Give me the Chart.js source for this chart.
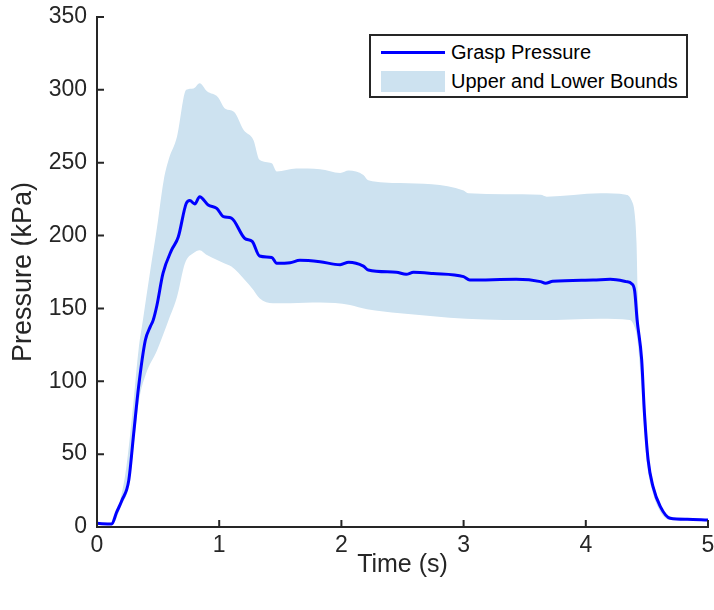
<!DOCTYPE html>
<html>
<head>
<meta charset="utf-8">
<script src="https://cdn.jsdelivr.net/npm/chart.js@4/dist/chart.umd.min.js"></script>
<style>
  body { margin: 0; background: #fff; }
  #wrap { position: relative; width: 714px; height: 610px; }
  #legend {
    position: absolute; left: 369px; top: 34px; width: 319px; height: 64px;
    box-sizing: border-box; border: 2px solid #262626; background: #fff;
    font-family: Arial, "Liberation Sans", sans-serif; font-size: 20px; color: #000;
  }
  .row { position: absolute; left: 10px; height: 22px; display: flex; align-items: center; white-space: nowrap; }
  .swatch { width: 64px; margin-right: 6px; }
</style>
</head>
<body>
<div id="wrap">
  <canvas id="chart" width="714" height="610"></canvas>
  <div id="legend"></div>
</div>
<script>
// ── Data ───────────────────────────────────────
const meanX = [0, 0.12, 0.16, 0.205, 0.26, 0.30, 0.34, 0.395, 0.436, 0.46, 0.49, 0.54, 0.61, 0.665, 0.73, 0.76, 0.80, 0.84, 0.91, 0.98, 1.035, 1.10, 1.21, 1.27, 1.33, 1.43, 1.47, 1.58, 1.66, 1.825, 1.99, 2.06, 2.18, 2.22, 2.45, 2.53, 2.59, 2.75, 3.0, 3.05, 3.43, 3.63, 3.67, 3.73, 4.06, 4.20, 4.33, 4.375, 4.40, 4.42, 4.457, 4.48, 4.51, 4.55, 4.61, 4.69, 4.83, 5.0];
const meanY = [2.5, 2, 10, 18.5, 32, 64, 96, 128, 137.5, 142, 152, 174, 190, 199, 222, 224, 221.7, 226.7, 221, 218.7, 213, 212, 198, 196, 186, 185, 181, 181.4, 183, 182, 180, 181.7, 179, 176.4, 174.8, 173.4, 174.8, 174, 171.8, 169.5, 170, 168.4, 167.3, 168.6, 169.5, 170, 168.4, 167, 162, 142, 115, 78, 46, 27.7, 14, 6, 5.3, 4.8];

const upperX = [0, 0.12, 0.2, 0.24, 0.30, 0.34, 0.376, 0.436, 0.49, 0.546, 0.586, 0.655, 0.73, 0.79, 0.84, 0.90, 0.99, 1.05, 1.12, 1.20, 1.28, 1.33, 1.43, 1.47, 1.63, 1.825, 1.99, 2.06, 2.18, 2.22, 2.48, 3.0, 3.04, 3.63, 3.68, 4.12, 4.33, 4.375, 4.40, 4.415, 4.425, 4.44, 4.465, 4.49, 4.52, 4.56, 4.62, 4.7, 5.0];
const upperY = [3, 3, 22, 41, 87, 121.5, 142, 176, 205, 238, 252, 268, 300, 301, 304.5, 299, 295, 287, 285, 272.5, 265.6, 252, 249.6, 244, 246, 245.5, 243, 244.6, 241.6, 238, 236, 231, 229, 228, 226.7, 229, 228, 224, 215, 195, 160, 135, 110, 78, 46, 28, 14, 7, 5];

const lowerX = [0, 0.12, 0.2, 0.26, 0.30, 0.34, 0.40, 0.49, 0.586, 0.655, 0.72, 0.79, 0.84, 0.90, 1.04, 1.10, 1.21, 1.28, 1.33, 1.44, 1.58, 1.825, 2.07, 2.21, 2.48, 3.02, 3.63, 4.12, 4.36, 4.40, 4.42, 4.445, 4.47, 4.50, 4.54, 4.60, 4.68, 5.0];
const lowerY = [1.5, 1.5, 15, 28, 55, 85, 105, 121, 142, 158, 181, 188, 190, 186.7, 181, 178.7, 169.5, 162.7, 157, 153.5, 153.5, 154, 152.4, 149.4, 146.7, 143, 142, 143, 142, 137, 130, 108, 76, 44, 26, 12, 5, 4.5];

const xTicks = [0, 1, 2, 3, 4, 5];
const yTicks = [0, 50, 100, 150, 200, 250, 300, 350];

const LINE_COLOR = '#0000ff';
const BAND_COLOR = '#cde2f0';
const AXIS_COLOR = '#262626';
const FONT = 'Arial, "Liberation Sans", sans-serif';

const pts = (xs, ys) => xs.map((x, i) => ({ x, y: ys[i] }));

// MATLAB-style inward tick marks
const inwardTicks = {
  id: 'inwardTicks',
  afterDatasetsDraw(chart) {
    const { ctx, chartArea, scales: { x, y } } = chart;
    ctx.save();
    ctx.strokeStyle = AXIS_COLOR;
    ctx.lineWidth = 2;
    ctx.beginPath();
    xTicks.forEach(v => {
      const px = x.getPixelForValue(v);
      ctx.moveTo(px, chartArea.bottom);
      ctx.lineTo(px, chartArea.bottom - 7);
    });
    yTicks.forEach(v => {
      const py = y.getPixelForValue(v);
      ctx.moveTo(chartArea.left, py);
      ctx.lineTo(chartArea.left + 7, py);
    });
    ctx.stroke();
    ctx.restore();
  },
};

// fixed axis boxes, no extra room for overhanging edge labels
function fitX(s) { s.height = 83; s.paddingLeft = 0; s.paddingRight = 0; }
function fitY(s) { s.width = 97; s.paddingTop = 0; s.paddingBottom = 0; }

const chart = new Chart(document.getElementById('chart'), {
  type: 'line',
  data: {
    datasets: [
      {
        label: 'Grasp Pressure',
        data: pts(meanX, meanY),
        borderColor: LINE_COLOR,
        borderWidth: 3,
        pointRadius: 0,
        cubicInterpolationMode: 'monotone',
        fill: false,
        order: 0,
      },
      {
        label: '_upper',
        data: pts(upperX, upperY),
        borderWidth: 0,
        borderColor: 'rgba(0,0,0,0)',
        pointRadius: 0,
        cubicInterpolationMode: 'monotone',
        fill: false,
        order: 2,
      },
      {
        label: 'Upper and Lower Bounds',
        data: pts(lowerX, lowerY),
        borderWidth: 0,
        borderColor: 'rgba(0,0,0,0)',
        backgroundColor: BAND_COLOR,
        pointRadius: 0,
        cubicInterpolationMode: 'monotone',
        fill: '-1',
        order: 1,
      },
    ],
  },
  options: {
    responsive: false,
    animation: false,
    layout: { padding: { top: 17, right: 6, left: 0, bottom: 0 } },
    plugins: { legend: { display: false }, tooltip: { enabled: false } },
    scales: {
      x: {
        type: 'linear', min: 0, max: 5,
        afterFit: fitX,
        afterBuildTicks: s => { s.ticks = xTicks.map(v => ({ value: v })); },
        ticks: { color: AXIS_COLOR, font: { family: FONT, size: 23 }, padding: 5, maxRotation: 0 },
        grid: { display: false, drawTicks: false },
        border: { display: true, color: AXIS_COLOR, width: 2 },
        title: { display: true, text: 'Time (s)', color: AXIS_COLOR, font: { family: FONT, size: 25 }, padding: { top: 0, bottom: 30 } },
      },
      y: {
        min: 0, max: 350,
        afterFit: fitY,
        afterBuildTicks: s => { s.ticks = yTicks.map(v => ({ value: v })); },
        ticks: { color: AXIS_COLOR, font: { family: FONT, size: 23 }, padding: 10 },
        grid: { display: false, drawTicks: false },
        border: { display: true, color: AXIS_COLOR, width: 2 },
        title: { display: true, text: 'Pressure (kPa)', color: AXIS_COLOR, font: { family: FONT, size: 27 }, padding: { top: 7, bottom: 0 } },
      },
    },
  },
  plugins: [inwardTicks],
});

// ── HTML legend, built from the dataset labels ──
const legend = document.getElementById('legend');
const shown = chart.data.datasets.filter(d => !d.label.startsWith('_'));
shown.forEach((ds, i) => {
  const row = document.createElement('div');
  row.className = 'row';
  row.style.top = (i === 0 ? 5 : 34) + 'px';
  const sw = document.createElement('span');
  sw.className = 'swatch';
  if (ds.fill) {
    sw.style.height = '21px';
    sw.style.background = ds.backgroundColor;
  } else {
    sw.style.height = '3px';
    sw.style.background = ds.borderColor;
  }
  row.appendChild(sw);
  row.appendChild(document.createTextNode(ds.label));
  legend.appendChild(row);
});
</script>
</body>
</html>
